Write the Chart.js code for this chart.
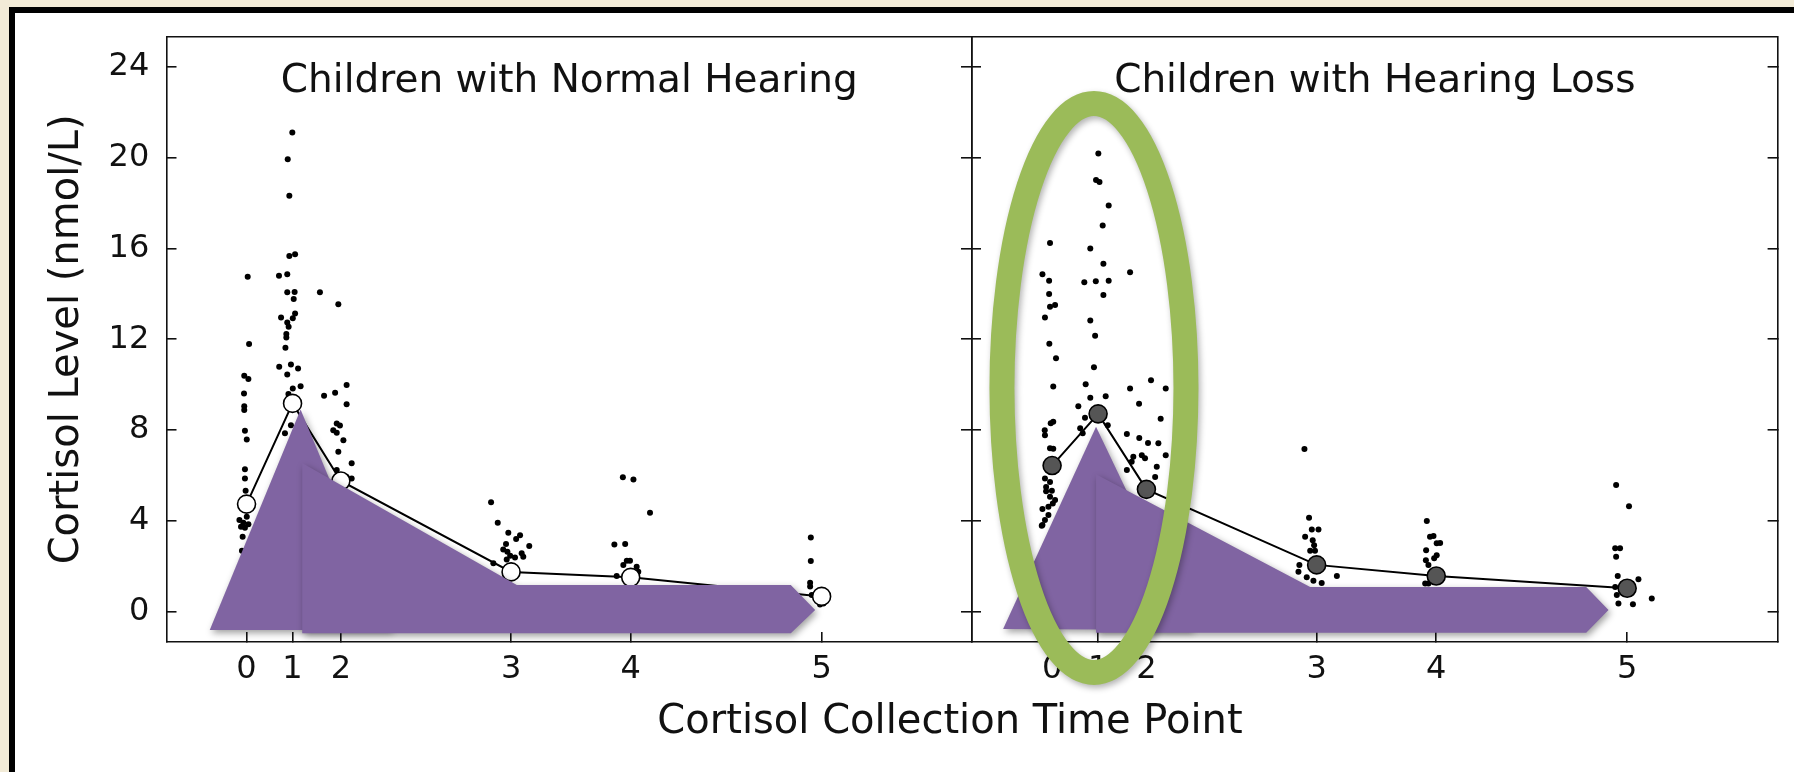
<!DOCTYPE html>
<html>
<head>
<meta charset="utf-8">
<script src="https://cdn.jsdelivr.net/npm/chart.js@4.4.1/dist/chart.umd.min.js"></script>
<style>
  html, body { margin: 0; padding: 0; width: 1794px; height: 772px; overflow: hidden; background: #F2EBD7; }
  #frame { position: absolute; left: 9px; top: 7px; width: 1820px; height: 800px;
           border-left: 6px solid #000; border-top: 6px solid #000; background: #fff; }
  #wrap { position: absolute; left: 0; top: 0; width: 1794px; height: 772px; }
</style>
</head>
<body>
<div id="frame"></div>
<div id="wrap"><canvas id="c" width="1794" height="772"></canvas></div>
<script>
// ---------- data ----------
const timePoints = [0, 20, 41, 115, 167, 250];          // x position (minutes) of each collection
const tickLabels = ['0', '1', '2', '3', '4', '5'];
const yTicks = [0, 4, 8, 12, 16, 20, 24];
const panelTitles = ['Children with Normal Hearing', 'Children with Hearing Loss'];
const xTitle = 'Cortisol Collection Time Point';
const yTitle = 'Cortisol Level (nmol/L)';

const nhMean = [4.73, 9.17, 5.75, 1.74, 1.50, 0.66];
const hlMean = [6.43, 8.71, 5.38, 2.05, 1.56, 1.02];

const nhDots = [
  [0.5,14.75],[1.1,11.79],[-1.0,10.39],[0.8,10.25],[-1.1,9.61],[-1.0,9.05],[-1.0,8.88],[-0.7,7.96],[0.1,7.58],
  [-0.7,6.27],[-0.7,5.86],[-0.4,5.32],[-3.1,4.03],[-1.4,3.91],[0.8,3.84],[-2.4,3.73],[-0.7,3.69],[0.1,4.17],
  [-1.7,3.29],[-2.0,2.67],
  [19.9,21.12],[17.9,19.94],[18.6,18.33],[21.1,15.75],[18.6,15.67],[14.1,14.80],[17.7,14.86],[17.7,14.07],
  [20.9,14.08],[20.5,13.77],[21.1,13.14],[15.0,12.96],[20.1,12.92],[17.7,12.74],[18.3,12.55],[17.3,12.23],
  [17.3,12.08],[16.9,11.62],[14.2,10.79],[19.3,10.89],[22.4,10.71],[17.7,10.45],[23.5,9.93],[20.1,9.83],
  [18.2,9.58],[19.3,8.21],[16.7,7.85],
  [31.9,14.07],[39.9,13.54],[33.7,9.51],[38.5,9.64],[43.5,9.98],[43.5,9.13],[39.2,8.29],[40.6,8.20],
  [37.7,7.99],[39.2,7.88],[42.1,7.55],[39.9,7.04],[45.7,6.53],[39.2,6.23],[43.5,5.93],[45.7,5.86],
  [106.3,4.81],[109.2,3.91],[113.8,3.47],[118.9,3.36],[117.2,3.19],[122.9,2.88],[112.8,2.97],[111.6,2.73],
  [113.4,2.63],[119.6,2.56],[120.3,2.41],[116.7,2.38],[113.1,2.29],[107.3,2.12],[114.6,2.45],
  [163.6,5.91],[168.2,5.82],[175.4,4.35],[159.9,2.95],[164.6,2.97],[165.3,2.23],[166.7,2.23],[169.6,1.97],
  [163.8,2.04],[170.3,1.75],[160.9,1.56],
  [245.3,3.26],[245.3,2.22],[245.0,1.26],[245.0,1.10],[245.7,0.72],[250.8,0.35],[249.3,0.30]
];
const hlDots = [
  [-0.9,16.24],[-4.2,14.87],[-1.3,14.58],[-1.3,14.0],[-0.9,13.43],[1.3,13.51],[-3.1,12.96],[-1.2,11.80],
  [1.7,11.16],[0.5,9.92],[0.5,8.36],[-0.6,8.30],[-3.2,7.99],[-3.1,7.77],[-0.9,7.19],[0.5,7.17],[-3.1,5.86],
  [-0.9,5.71],[-2.6,5.49],[-0.1,5.32],[-2.6,5.30],[-0.9,5.05],[1.3,4.91],[0.3,4.76],[-4.2,4.51],[-1.6,4.61],
  [-1.6,4.25],[-3.1,4.03],[-4.2,3.81],[-4.5,3.78],
  [20.1,20.19],[19.1,19.02],[20.6,18.93],[24.6,17.90],[22.0,17.02],[16.6,16.0],[22.3,15.33],[14.0,14.51],
  [19.0,14.56],[24.6,14.58],[22.3,13.95],[16.6,12.83],[18.7,12.15],[18.2,10.77],[14.6,10.01],[16.6,9.42],
  [23.3,9.49],[11.4,9.05],[14.3,8.54],[24.2,8.21],[12.2,8.07],[13.3,7.85],
  [33.9,14.95],[33.9,9.83],[43.0,10.19],[49.4,9.83],[37.8,9.15],[47.2,8.49],[32.5,7.82],[37.9,7.65],
  [41.7,7.43],[46.2,7.41],[49.4,6.89],[35.3,6.82],[39.0,6.89],[40.4,6.75],[34.6,6.60],[45.5,6.38],
  [32.5,6.23],[44.8,5.93],[56.1,10.06],
  [109.7,7.16],[111.7,4.13],[112.9,3.61],[115.8,3.61],[110.0,3.29],[113.3,3.14],[113.9,2.92],[112.2,2.67],
  [114.3,2.67],[107.5,2.04],[107.1,1.75],[123.8,1.56],[110.7,1.50],[113.6,1.35],[117.2,1.25],
  [162.9,3.99],[164.3,3.29],[165.8,3.32],[168.7,3.02],[167.2,3.00],[162.6,2.70],[167.2,2.48],[166.1,2.34],
  [162.5,2.26],[163.6,2.04],[162.2,1.23],[163.6,1.23],
  [245.2,5.57],[250.8,4.64],[244.8,2.78],[246.9,2.78],[245.2,2.41],[245.9,1.56],[254.9,1.42],[244.8,1.08],
  [245.5,0.72],[246.2,0.35],[252.5,0.32],[260.7,0.57]
];

// annotation shapes (in each panel's own time / value units)
const nhTriangle = [[-16.0,-0.82],[23.5,8.90],[63.2,-0.82]];
const nhArrow    = [[24.2,6.54],[117.5,1.16],[236.6,1.16],[247.2,0.06],[236.6,-0.96],[24.2,-0.96]];
const hlTriangle = [[-21.3,-0.78],[19.1,8.14],[61.3,-0.82]];
const hlArrow    = [[19.1,6.05],[112.2,1.08],[232.2,1.08],[241.9,0.06],[232.2,-0.94],[19.1,-0.94]];
const hlEllipse  = { x: 18.2, y: 9.85, rx: 40, ry: 12.54 };
const titleAnchor = { x: 140.3, y: 22.9 };

// ---------- scale layout ----------
const X_MIN = -34.8, PANEL = 350.2, Y_MIN = -1.35, Y_MAX = 25.34;
const X_MAX = X_MIN + 2 * PANEL;
const FONT = '"DejaVu Sans", "Liberation Sans", sans-serif';
const INK = '#111';
const PURPLE = '#8064A2';
const GREEN = '#9BBB59';
const CANVAS_W = 1794, AXIS_LEFT = 166.5, AXIS_RIGHT = 1777.6;
const TITLE_CENTER = 950;                       // bottom title centre (page px)
const PAD_RIGHT = CANVAS_W - 2 * TITLE_CENTER;  // lets the full-size title box centre there

const xTickValues = timePoints.concat(timePoints.map(t => t + PANEL));
const xTickText = tickLabels.concat(tickLabels);

const pts = (arr, dx) => arr.map(([x, y]) => ({ x: x + dx, y }));
const closed = (arr, dx) => pts(arr.concat([arr[0]]), dx);
const meanPts = (vals, dx) => timePoints.map((t, i) => ({ x: t + dx, y: vals[i] }));

const zeroPad = s => { s.paddingTop = 0; s.paddingBottom = 0; s.paddingLeft = 0; s.paddingRight = 0; };
const fixW = w => s => { s.width = w; zeroPad(s); };
const fixH = h => s => { s.height = h; zeroPad(s); };
const yTickBuild = s => { s.ticks = yTicks.map(v => ({ value: v })); };
const border = { display: true, color: INK, width: 1.6 };
const gridInward = len => ({ drawOnChartArea: false, drawTicks: true, tickLength: len, color: INK, lineWidth: 1.6 });

// ---------- shadow for annotation fills (runs before the filler) ----------
const shadowPlugin = {
  id: 'shapeShadow',
  beforeDatasetDraw(chart, args) {
    const ds = chart.data.datasets[args.index];
    if (ds.dropShadow) {
      const c = chart.ctx;
      c.save();
      c.shadowColor = 'rgba(0,0,0,0.38)';
      c.shadowBlur = 7;
      c.shadowOffsetX = 2;
      c.shadowOffsetY = 3;
      args.meta._shadowOn = true;
    }
  },
  afterDatasetDraw(chart, args) {
    if (args.meta._shadowOn) { chart.ctx.restore(); args.meta._shadowOn = false; }
  }
};
try {
  const filler = Chart.registry.plugins.get('filler');
  if (filler) { Chart.unregister(filler); Chart.register(shadowPlugin, filler); }
  else Chart.register(shadowPlugin);
} catch (e) { Chart.register(shadowPlugin); }

// ---------- panel titles and highlight ellipse ----------
const overlayPlugin = {
  id: 'overlay',
  afterDatasetsDraw(chart) {
    const { ctx, scales: { x, y } } = chart;
    ctx.save();
    ctx.font = '39px ' + FONT;
    ctx.fillStyle = INK;
    ctx.textAlign = 'center';
    ctx.textBaseline = 'alphabetic';
    panelTitles.forEach((t, i) => {
      ctx.fillText(t, x.getPixelForValue(titleAnchor.x + i * PANEL), y.getPixelForValue(titleAnchor.y));
    });
    ctx.restore();
  },
  afterDraw(chart) {
    const { ctx, scales: { x, y } } = chart;
    const cx = x.getPixelForValue(hlEllipse.x + PANEL);
    const cy = y.getPixelForValue(hlEllipse.y);
    const rx = x.getPixelForValue(hlEllipse.x + hlEllipse.rx + PANEL) - cx;
    const ry = cy - y.getPixelForValue(hlEllipse.y + hlEllipse.ry);
    ctx.save();
    ctx.shadowColor = 'rgba(0,0,0,0.3)';
    ctx.shadowBlur = 6;
    ctx.shadowOffsetX = 2;
    ctx.shadowOffsetY = 3;
    ctx.lineWidth = 25;
    ctx.strokeStyle = GREEN;
    ctx.beginPath();
    ctx.ellipse(cx, cy, rx, ry, 0, 0, Math.PI * 2);
    ctx.stroke();
    ctx.restore();
  }
};

const shape = (data, order) => ({
  type: 'line', data, fill: 'shape', backgroundColor: PURPLE, borderWidth: 0,
  pointRadius: 0, pointHoverRadius: 0, tension: 0, order, dropShadow: true
});
const dots = (data) => ({
  type: 'scatter', data, pointRadius: 3.0, pointHoverRadius: 3.0,
  backgroundColor: '#000', borderWidth: 0, order: 4
});
const means = (data, fillColor) => ({
  type: 'line', data, borderColor: '#000', borderWidth: 2, tension: 0, fill: false,
  pointRadius: 9, pointHoverRadius: 9, pointBackgroundColor: fillColor,
  pointBorderColor: '#000', pointBorderWidth: 1.6, order: 3
});

new Chart(document.getElementById('c'), {
  type: 'scatter',
  data: {
    datasets: [
      dots(pts(nhDots, 0)),
      dots(pts(hlDots, PANEL)),
      means(meanPts(nhMean, 0), '#ffffff'),
      means(meanPts(hlMean, PANEL), '#555555'),
      shape(closed(nhTriangle, 0), 2),
      shape(closed(hlTriangle, PANEL), 2),
      shape(closed(nhArrow, 0), 1),
      shape(closed(hlArrow, PANEL), 1)
    ]
  },
  options: {
    responsive: false,
    animation: false,
    events: [],
    layout: { padding: { left: 0, top: 36.7, right: PAD_RIGHT, bottom: 0 }, autoPadding: false },
    plugins: {
      legend: { display: false },
      tooltip: { enabled: false },
      title: {
        display: true, position: 'bottom', fullSize: true, text: xTitle, color: INK,
        font: { family: FONT, size: 40, weight: 'normal', lineHeight: 1.2 }, padding: { top: 0, bottom: 25 }
      }
    },
    scales: {
      x: {
        type: 'linear', position: 'bottom', min: X_MIN, max: X_MAX,
        afterBuildTicks: s => { s.ticks = xTickValues.map(v => ({ value: v })); },
        ticks: { autoSkip: false, maxRotation: 0, minRotation: 0, padding: 18.3, color: INK,
                 font: { family: FONT, size: 32 }, callback: (v, i) => xTickText[i] },
        grid: gridInward(-10), border,
        afterFit: fixH(57)
      },
      xTop: {
        type: 'linear', position: 'top', min: X_MIN, max: X_MAX,
        ticks: { display: false }, grid: { drawOnChartArea: false, drawTicks: false }, border,
        afterFit: fixH(0)
      },
      y: {
        type: 'linear', position: 'left', min: Y_MIN, max: Y_MAX, afterBuildTicks: yTickBuild,
        ticks: { padding: 27.2, color: INK, font: { family: FONT, size: 32 } },
        grid: gridInward(-10), border,
        title: { display: true, text: yTitle, color: INK, font: { family: FONT, size: 40 },
                 padding: { top: 44, bottom: 0 } },
        afterFit: fixW(AXIS_LEFT)
      },
      y2: {
        type: 'linear', position: 'right', min: Y_MIN, max: Y_MAX, afterBuildTicks: yTickBuild,
        ticks: { display: false }, grid: gridInward(-10), border,
        afterFit: fixW(CANVAS_W - PAD_RIGHT - AXIS_RIGHT)
      },
      yDivL: {
        type: 'linear', position: { x: X_MIN + PANEL }, min: Y_MIN, max: Y_MAX, afterBuildTicks: yTickBuild,
        ticks: { display: false }, grid: gridInward(10), border, afterFit: fixW(0)
      },
      yDivR: {
        type: 'linear', position: { x: X_MIN + PANEL }, min: Y_MIN, max: Y_MAX, afterBuildTicks: yTickBuild,
        ticks: { display: false }, grid: gridInward(-10), border, afterFit: fixW(0)
      }
    }
  },
  plugins: [overlayPlugin]
});
</script>
</body>
</html>
